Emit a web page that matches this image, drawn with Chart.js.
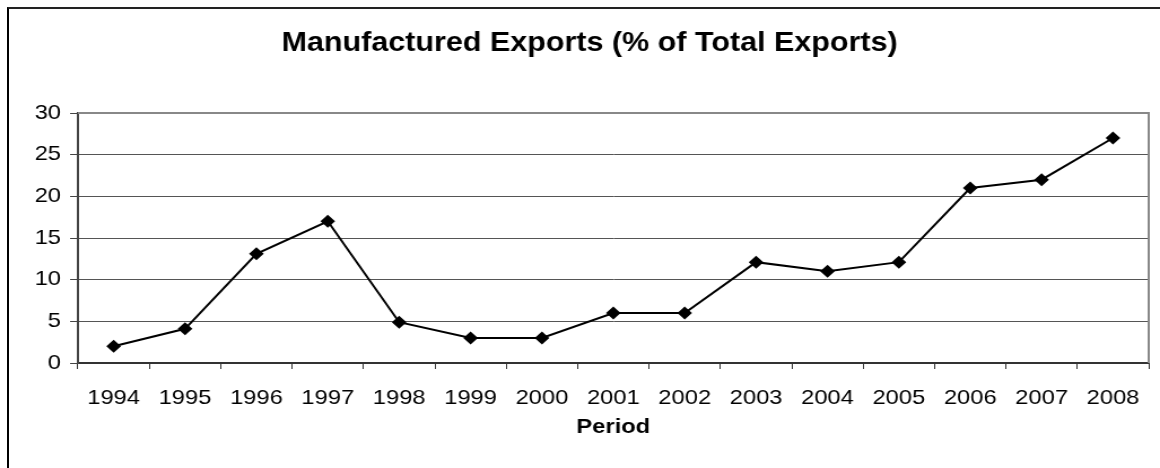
<!DOCTYPE html>
<html>
<head>
<meta charset="utf-8">
<script src="https://cdn.jsdelivr.net/npm/chart.js@4.4.1/dist/chart.umd.min.js"></script>
<style>
  html,body{margin:0;padding:0;background:#fff;overflow:hidden;width:1160px;height:468px;}
  #frame{position:absolute;left:7px;top:7px;width:1200px;height:500px;border:2px solid #000;border-top-color:#222;background:#fff;}
  /* the reference is a slightly widened picture, so the canvas is stretched sideways */
  #wrap{position:absolute;left:0;top:0;width:1027px;height:468px;transform:scaleX(1.1295);transform-origin:0 0;}
</style>
</head>
<body>
<div id="frame"></div>
<div id="wrap"><canvas id="chartExports"></canvas></div>
<script>
// Manufactured exports share
const years = ["1994","1995","1996","1997","1998","1999","2000","2001","2002","2003","2004","2005","2006","2007","2008"];
const exportsPct = [2, 4.1, 13.1, 17, 4.9, 3, 3, 6, 6, 12.1, 11, 12.1, 21, 22, 27];
const yTicks = [0, 5, 10, 15, 20, 25, 30];

const FONT = "'Liberation Sans', Arial, sans-serif";

// plot area frame: grey on top and right
const plotBorder = {
  id: "plotBorder",
  beforeDatasetsDraw(chart){
    const {ctx, chartArea:a} = chart;
    ctx.save();
    ctx.strokeStyle = "#888";
    ctx.lineWidth = 2;
    ctx.beginPath();
    ctx.moveTo(a.left, a.top);
    ctx.lineTo(a.right, a.top);
    ctx.lineTo(a.right, a.bottom);
    ctx.stroke();
    ctx.restore();
  }
};

new Chart(document.getElementById("chartExports"), {
  type: "line",
  data: {
    labels: years,
    datasets: [{
      label: "Manufactured Exports",
      data: exportsPct,
      borderColor: "#000",
      backgroundColor: "#000",
      borderWidth: 2,
      pointStyle: "rectRot",
      pointRadius: 6.5,
      pointHoverRadius: 6.5,
      pointBorderWidth: 0,
      tension: 0,
      fill: false
    }]
  },
  options: {
    responsive: true,
    maintainAspectRatio: false,
    animation: false,
    layout: { padding: { left: 27, right: 10, top: 0, bottom: 28 } },
    plugins: {
      legend: { display: false },
      tooltip: { enabled: false },
      title: {
        display: true,
        text: "Manufactured Exports (% of Total Exports)",
        color: "#000",
        font: { family: FONT, size: 27, weight: "bold" },
        padding: { top: 27, bottom: 53.6 }
      }
    },
    scales: {
      x: {
        offset: true,
        afterFit(scale){ scale.height = 77; },
        grid: { offset: true, drawOnChartArea: false, drawTicks: true, tickLength: 6, color: "#333", lineWidth: 1 },
        border: { color: "#333", width: 2 },
        ticks: { color: "#000", font: { family: FONT, size: 21 }, padding: 17, maxRotation: 0, autoSkip: false },
        title: { display: true, text: "Period", color: "#000", font: { family: FONT, size: 21, weight: "bold" }, padding: { top: 0, bottom: 0 } }
      },
      y: {
        min: 0, max: 30,
        afterBuildTicks(scale){ scale.ticks = yTicks.map(v => ({ value: v })); },
        afterFit(scale){ scale.width = 42; },
        grid: { color: "#555", lineWidth: 1, drawTicks: true, tickLength: 7, tickColor: "#444" },
        border: { color: "#444", width: 2 },
        ticks: { color: "#000", font: { family: FONT, size: 21 }, padding: 8 }
      }
    }
  },
  plugins: [plotBorder]
});
</script>
</body>
</html>
